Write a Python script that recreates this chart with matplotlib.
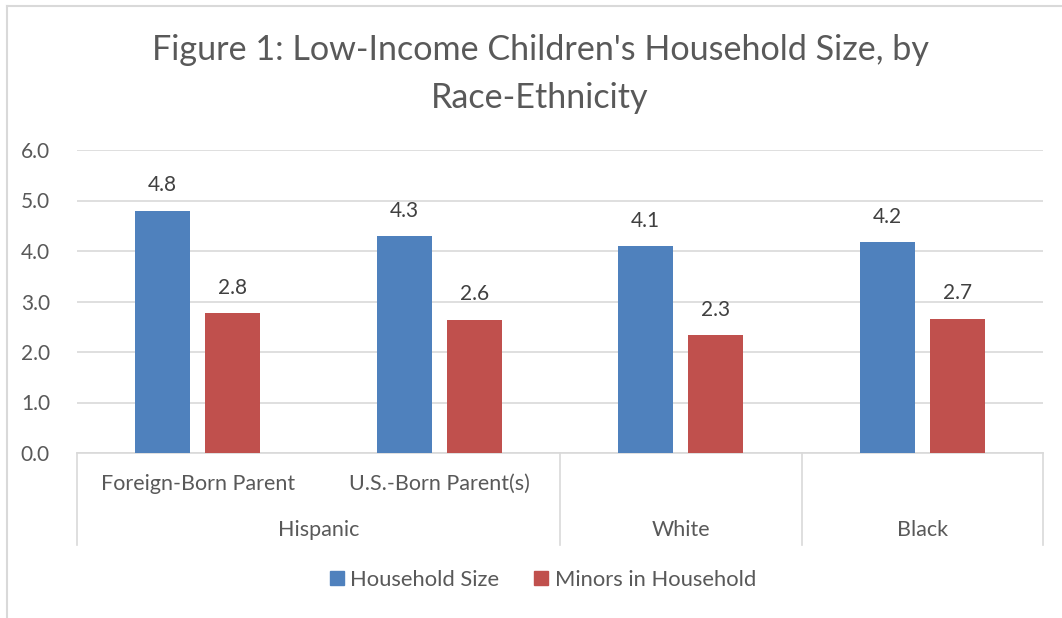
import numpy as np
import matplotlib.pyplot as plt
from matplotlib.patches import Patch
from matplotlib.lines import Line2D

# data
subgroups = ['Foreign-Born Parent', 'U.S.-Born Parent(s)', '', '']
groups = ['Hispanic', 'White', 'Black']
group_spans = [(0, 1), (2, 2), (3, 3)]
household_size = [4.8, 4.3, 4.1, 4.17]
minors = [2.77, 2.64, 2.33, 2.66]
yticks = [0, 1, 2, 3, 4, 5, 6]

blue = '#4f81bd'
red = '#c0504d'
grid_c = '#d9d9d9'
txt = '#595959'

plt.rcParams['font.family'] = ['Lato', 'DejaVu Sans']

fig = plt.figure(figsize=(10.62, 6.18), dpi=100)
ax = fig.add_axes([77/1062, 1-453/618, 966/1062, 303/618])

x = np.arange(len(household_size))
w = 0.228
off = 0.145
b1 = ax.bar(x - off, household_size, w, color=blue, zorder=3)
b2 = ax.bar(x + off, minors, w, color=red, zorder=3)
for bars, vals in ((b1, household_size), (b2, minors)):
    for b, v in zip(bars, vals):
        ax.annotate(f'{v:.1f}', (b.get_x() + b.get_width()/2, v), xytext=(0, 11),
                    textcoords='offset points', ha='center', va='bottom',
                    fontsize=15, color='#404040')

ax.set_xlim(-0.5, 3.5)
ax.set_ylim(0, 6)
ax.set_yticks(yticks)
ax.set_yticklabels([f'{t:.1f}' for t in yticks], fontsize=15, color=txt)
ax.tick_params(axis='y', length=0, pad=19.5)
ax.set_xticks([])
ax.grid(axis='y', color=grid_c, lw=1.2, zorder=0)
for s in ['left', 'right', 'top']:
    ax.spines[s].set_visible(False)
ax.spines['bottom'].set_color(grid_c)
ax.spines['bottom'].set_linewidth(1.2)

# two-level category axis
trans = ax.get_xaxis_transform()
for i, lab in enumerate(subgroups):
    if lab:
        ax.text(i, -0.102, lab, transform=trans, ha='center', va='center',
                fontsize=15.5, color=txt)
for g, (a, b) in zip(groups, group_spans):
    ax.text((a + b)/2, -0.254, g, transform=trans, ha='center', va='center',
            fontsize=15.5, color=txt)
for xs in [-0.5, 1.5, 2.5, 3.5]:
    ax.add_line(Line2D([xs, xs], [0, -0.304], transform=trans, color=grid_c,
                       lw=1.2, clip_on=False))

fig.suptitle("Figure 1: Low-Income Children's Household Size, by\nRace-Ethnicity",
             x=540/1062, y=1-34/618, va='top', fontsize=24.6, color=txt,
             linespacing=1.62)

handles = [Patch(color=blue, label='Household Size'),
           Patch(color=red, label='Minors in Household')]
fig.legend(handles=handles, ncol=2, loc='center', bbox_to_anchor=(543/1062, 1-580/618),
           frameon=False, fontsize=15.8, handlelength=0.62, handleheight=0.62,
           handletextpad=0.3, columnspacing=1.6, labelcolor=txt)

# chart border (left and top visible)
fig.add_artist(Line2D([7/1062, 7/1062], [0, 1-6/618], color=grid_c, lw=1.5))
fig.add_artist(Line2D([7/1062, 1], [1-6/618, 1-6/618], color=grid_c, lw=1.5))

fig.savefig('out.png', dpi=100)
